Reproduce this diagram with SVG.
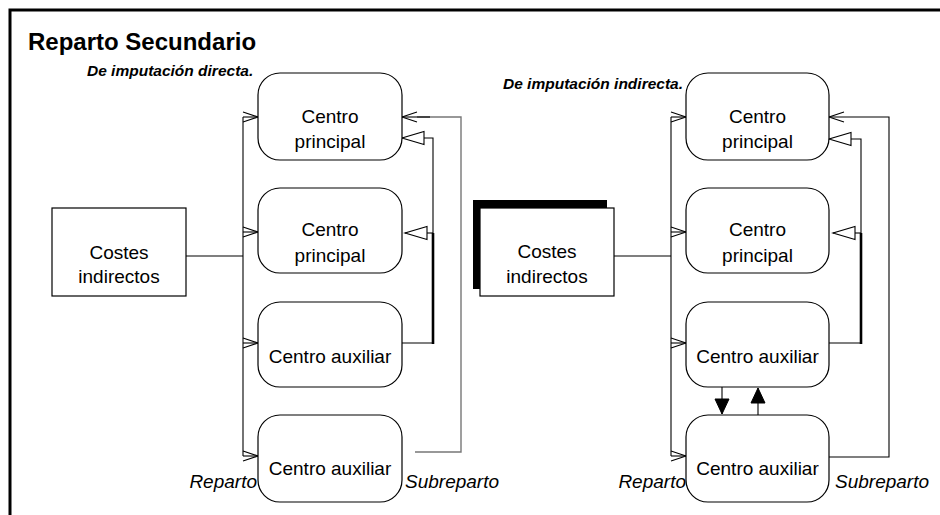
<svg xmlns="http://www.w3.org/2000/svg" width="940" height="515" viewBox="0 0 940 515">
<defs>
<style>
.frame{fill:none;stroke:#000;stroke-width:3}
.node{fill:#fff;stroke:#000;stroke-width:1.2}
.shadow{fill:#000;stroke:none}
.lbl{font-family:"Liberation Sans",Arial,sans-serif;font-size:19px;fill:#000;text-anchor:middle}
.it{font-family:"Liberation Sans",Arial,sans-serif;font-size:19px;font-style:italic;fill:#000}
.sub{font-family:"Liberation Sans",Arial,sans-serif;font-size:15.5px;font-style:italic;font-weight:bold;fill:#000}
.title{font-family:"Liberation Sans",Arial,sans-serif;font-size:24px;font-weight:bold;fill:#000}
.c{fill:none;stroke:#000;stroke-width:1.1}
.cg{fill:none;stroke:#777;stroke-width:1.4}
.bold{fill:none;stroke:#000;stroke-width:2.6}
.open{marker-end:url(#chev)}
.tri{marker-end:url(#hollow)}
.fill{marker-end:url(#solid)}
</style>
<marker id="chev" markerUnits="userSpaceOnUse" markerWidth="17" markerHeight="12" refX="15" refY="5.5" orient="auto" overflow="visible">
<path d="M0,0.5 L15,5.5 L0,10.5" fill="none" stroke="#000" stroke-width="1.1"/>
</marker>
<marker id="hollow" markerUnits="userSpaceOnUse" markerWidth="24" markerHeight="15" refX="22" refY="7" orient="auto" overflow="visible">
<path d="M0,0.5 L22,7 L0,13.5 Z" fill="#fff" stroke="#000" stroke-width="1.1"/>
</marker>
<marker id="solid" markerUnits="userSpaceOnUse" markerWidth="16" markerHeight="16" refX="15" refY="7" orient="auto" overflow="visible">
<path d="M0,0 L15,7 L0,14 Z" fill="#000" stroke="#000" stroke-width="1"/>
</marker>
</defs>

<path class="frame" d="M10,520 V10 H945"/>
<text class="title" x="28" y="50">Reparto Secundario</text>
<text class="sub" x="87" y="76">De imputación directa.</text>
<text class="sub" x="503" y="89">De imputación indirecta.</text>

<g id="connectors">
<!-- left diagram -->
<path class="c" d="M186,256 H243"/>
<path class="c" d="M243,117 V456"/>
<path class="c open" d="M243,117 H258"/>
<path class="c open" d="M243,232 H258"/>
<path class="c open" d="M243,343 H258"/>
<path class="c open" d="M243,456 H258"/>
<path class="cg" d="M415,452 H461 V117 H417"/>
<path class="c open" d="M430,117 H402"/>
<path class="c tri" d="M402,343 H433 V138 H402"/>
<path class="c tri" d="M433,233 H405"/>
<path class="bold" d="M433,233 V344"/>
<!-- right diagram -->
<path class="c" d="M614,256 H671"/>
<path class="c" d="M671,117 V456"/>
<path class="c open" d="M671,117 H686"/>
<path class="c open" d="M671,232 H686"/>
<path class="c open" d="M671,343 H686"/>
<path class="c open" d="M671,456 H686"/>
<path class="c open" d="M829,457 H889 V117 H829"/>
<path class="c tri" d="M829,343 H861 V139 H829"/>
<path class="c tri" d="M861,233 H833"/>
<path class="bold" d="M861,233 V344"/>
<path class="c fill" d="M722,387 V414"/>
<path class="c fill" d="M758,415 V388"/>
</g>

<g id="costes-izq">
<rect class="node" x="52" y="208" width="134" height="88"/>
<text class="lbl" x="119" y="259">Costes</text>
<text class="lbl" x="119" y="283">indirectos</text>
</g>
<g id="izq-principal-1">
<rect class="node" x="258" y="73" width="144" height="87" rx="22"/>
<text class="lbl" x="330" y="123">Centro</text>
<text class="lbl" x="330" y="148">principal</text>
</g>
<g id="izq-principal-2">
<rect class="node" x="258" y="188" width="144" height="85" rx="22"/>
<text class="lbl" x="330" y="236">Centro</text>
<text class="lbl" x="330" y="262">principal</text>
</g>
<g id="izq-auxiliar-1">
<rect class="node" x="258" y="302" width="144" height="85" rx="22"/>
<text class="lbl" x="330" y="363">Centro auxiliar</text>
</g>
<g id="izq-auxiliar-2">
<rect class="node" x="258" y="415" width="144" height="87" rx="22"/>
<text class="lbl" x="330" y="475">Centro auxiliar</text>
</g>
<text class="it" x="257" y="488" text-anchor="end">Reparto</text>
<text class="it" x="405" y="488">Subreparto</text>

<g id="costes-der">
<rect class="shadow" x="473" y="200" width="134" height="89"/>
<rect class="node" x="480" y="208" width="134" height="88"/>
<text class="lbl" x="547" y="258">Costes</text>
<text class="lbl" x="547" y="283">indirectos</text>
</g>
<g id="der-principal-1">
<rect class="node" x="686" y="73" width="143" height="87" rx="22"/>
<text class="lbl" x="757.5" y="123">Centro</text>
<text class="lbl" x="757.5" y="148">principal</text>
</g>
<g id="der-principal-2">
<rect class="node" x="686" y="188" width="143" height="85" rx="22"/>
<text class="lbl" x="757.5" y="236">Centro</text>
<text class="lbl" x="757.5" y="262">principal</text>
</g>
<g id="der-auxiliar-1">
<rect class="node" x="686" y="302" width="143" height="85" rx="22"/>
<text class="lbl" x="757.5" y="363">Centro auxiliar</text>
</g>
<g id="der-auxiliar-2">
<rect class="node" x="686" y="415" width="143" height="87" rx="22"/>
<text class="lbl" x="757.5" y="475">Centro auxiliar</text>
</g>
<text class="it" x="686" y="488" text-anchor="end">Reparto</text>
<text class="it" x="835" y="488">Subreparto</text>
</svg>
